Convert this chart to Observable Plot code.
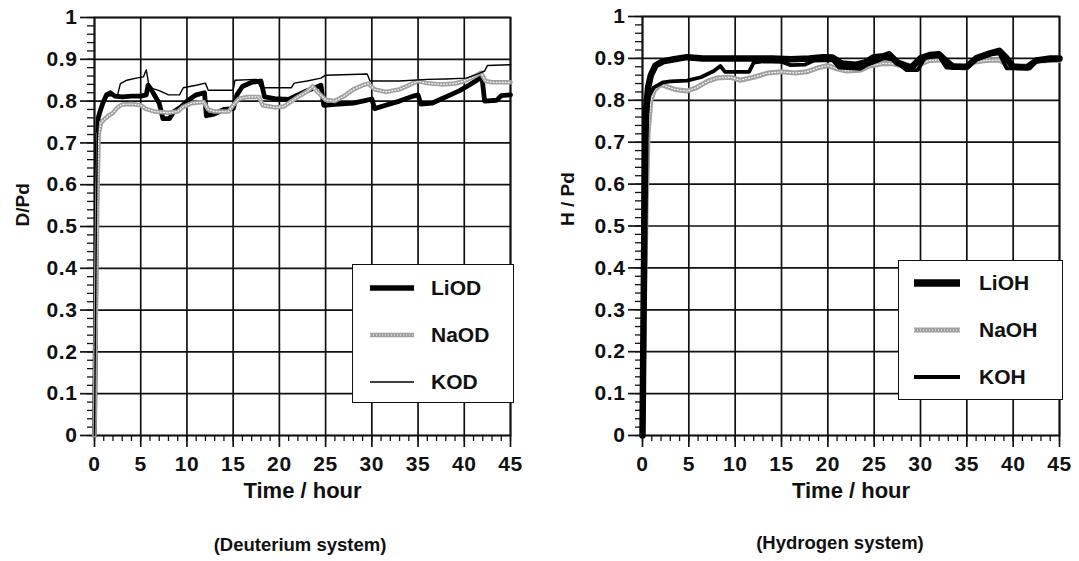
<!DOCTYPE html>
<html><head><meta charset="utf-8">
<script src="https://cdn.jsdelivr.net/npm/d3@7"></script>
<script src="https://cdn.jsdelivr.net/npm/@observablehq/plot@0.6"></script>
<style>
body{margin:0;background:#fff;font-family:"Liberation Sans",Arial,sans-serif;}
#wrap{position:relative;width:1079px;height:561px;overflow:hidden;background:#fff;}
.panel{position:absolute;top:0;}
.panel g[aria-label="y-axis tick label"] text, .panel g[aria-label="x-axis tick label"] text{letter-spacing:0.6px;}
.legend{position:absolute;background:#fff;border:1.8px solid #111;box-sizing:border-box;}
.item{position:absolute;left:0;right:0;height:0;}
.item svg{position:absolute;top:-6px;overflow:visible;}
.item span{position:absolute;top:-12px;font-weight:bold;font-size:21px;line-height:24px;color:#111;}
.cap{position:absolute;font-weight:bold;font-size:18.5px;color:#111;text-align:center;white-space:nowrap;}
</style></head>
<body><div id="wrap"></div>
<script>
// ---------- Deuterium system ----------
const liodT = [0,0.1,0.2,0.3,0.4,0.6,0.9,1.3,1.7,2.2,3,4,5,5.6,5.8,6.2,6.6,7,7.4,8.1,8.6,9.3,10,11,11.9,12.1,12.8,14,15,15.4,16,17,18,18.4,19.5,21,22,23,24.5,24.8,26,28,29,30,30.3,31.5,33,34.5,35,35.3,36.5,37.5,38.5,39.5,40.5,41.5,41.9,42.2,43.5,44,45];
const liodV = [0,0.25,0.5,0.68,0.76,0.775,0.795,0.815,0.82,0.812,0.81,0.812,0.812,0.815,0.838,0.825,0.81,0.795,0.758,0.758,0.775,0.785,0.8,0.815,0.82,0.765,0.768,0.78,0.782,0.815,0.835,0.845,0.848,0.81,0.806,0.804,0.815,0.825,0.838,0.79,0.792,0.795,0.8,0.805,0.782,0.79,0.8,0.812,0.815,0.793,0.795,0.805,0.815,0.825,0.838,0.852,0.86,0.8,0.802,0.813,0.815];
const naodT = [0,0.15,0.3,0.45,0.7,1,1.5,2,2.5,3,4,5,5.5,6.5,8,9,9.5,10.5,11.8,12.3,13,14.5,15,15.6,16.5,17.8,18.2,19.5,20.5,21,22,23,23.6,24.2,25,26,27,28,29,29.6,30.3,31.5,33,34,35,36,37.5,39,40,41,41.8,42.3,43,45];
const naodV = [0,0.3,0.55,0.72,0.748,0.755,0.765,0.772,0.785,0.792,0.793,0.79,0.782,0.775,0.772,0.775,0.785,0.795,0.798,0.78,0.775,0.775,0.79,0.805,0.81,0.81,0.79,0.785,0.787,0.795,0.81,0.823,0.835,0.82,0.803,0.8,0.812,0.828,0.838,0.842,0.828,0.822,0.828,0.838,0.848,0.843,0.84,0.842,0.848,0.858,0.868,0.848,0.845,0.845];
const kodT = [0,0.1,0.2,0.3,0.45,0.7,1,1.5,2.5,2.8,3.5,4.5,5.3,5.6,5.9,6.3,7,8,9.2,9.6,11,12,12.3,15,15.2,17.5,18,21.3,21.6,23,24.5,25,29.5,29.8,33,36,38,40.2,41.5,42.2,42.5,45];
const kodV = [0,0.25,0.5,0.7,0.77,0.785,0.8,0.812,0.815,0.842,0.85,0.855,0.858,0.875,0.835,0.83,0.825,0.815,0.815,0.832,0.838,0.843,0.826,0.826,0.85,0.852,0.832,0.832,0.843,0.848,0.855,0.862,0.865,0.848,0.848,0.852,0.853,0.855,0.865,0.872,0.885,0.887];
// ---------- Hydrogen system ----------
const liohT = [0,0.1,0.2,0.3,0.4,0.6,0.9,1.4,2.2,3.4,4.8,6.5,8,10,12,14,16,18,19.5,20.5,21.5,23,24,25,26,26.6,27.5,29,30,31,32,32.7,33.5,35,36,37.5,38.5,39.3,40,41.5,42.5,44,45];
const liohV = [0,0.25,0.5,0.7,0.78,0.83,0.86,0.883,0.893,0.898,0.903,0.9,0.9,0.9,0.9,0.9,0.898,0.9,0.903,0.902,0.888,0.885,0.89,0.903,0.905,0.91,0.89,0.878,0.9,0.908,0.91,0.895,0.88,0.88,0.9,0.912,0.918,0.9,0.88,0.878,0.895,0.9,0.9];
const naohT = [0,0.2,0.4,0.6,0.9,1.3,2,2.7,3.5,4.8,5.8,7,8,9.5,10.5,12,13.5,15,16.5,17.7,19,20,21,22,23.5,24.5,26,27,28.5,29.8,31,32.5,33.2,34.8,35.5,37,38.5,39.5,41.5,42.3,44,45];
const naohV = [0,0.3,0.55,0.72,0.8,0.825,0.838,0.832,0.826,0.822,0.83,0.845,0.853,0.855,0.848,0.855,0.865,0.868,0.865,0.868,0.878,0.883,0.875,0.87,0.872,0.882,0.888,0.887,0.88,0.885,0.895,0.897,0.885,0.88,0.89,0.895,0.896,0.883,0.882,0.893,0.895,0.895];
const kohT = [0,0.1,0.2,0.3,0.45,0.7,1.2,2.2,3,4.8,6.3,7.7,8.4,8.9,11.5,12,13,15,16,17.5,18.5,20.5,21.2,23.5,24.3,26,27,28.5,29.7,30.5,32,32.8,34.8,35.5,37,38.5,39.3,41.8,42.5,45];
const kohV = [0,0.2,0.45,0.65,0.76,0.81,0.83,0.843,0.845,0.847,0.855,0.87,0.882,0.868,0.868,0.89,0.893,0.892,0.884,0.885,0.895,0.896,0.878,0.875,0.885,0.9,0.898,0.872,0.872,0.902,0.905,0.878,0.876,0.89,0.908,0.912,0.876,0.876,0.893,0.897];
// ---------- axes ----------
const xTicks = [0,5,10,15,20,25,30,35,40,45];
const yTicks = [0,0.1,0.2,0.3,0.4,0.5,0.6,0.7,0.8,0.9,1];
const xMinor = d3.range(0,46,1);
const yMinor = d3.range(0,51,1).map(i => i/50);
const leftNames = ["LiOD","NaOD","KOD"];
const rightNames = ["LiOH","NaOH","KOH"];

const zip = (t, v) => t.map((x, i) => ({t: x, v: v[i]}));
const fmt = d => String(+d.toFixed(1));
const FONT = "Liberation Sans, Arial, sans-serif";

function grayLine(data, w) {
  return [
    Plot.line(data, {x: "t", y: "v", stroke: "#a0a0a0", strokeWidth: w, strokeLinejoin: "round"}),
    Plot.line(data, {x: "t", y: "v", stroke: "#ffffff", strokeWidth: 1.2, strokeDasharray: "1,2", strokeOpacity: 0.9})
  ];
}

function panel(o) {
  return Plot.plot({
    width: o.width, height: 510,
    marginLeft: o.ml, marginRight: o.mr, marginTop: o.mt, marginBottom: 75,
    x: {domain: [0, 45]}, y: {domain: [0, 1]},
    style: {fontFamily: FONT, fontWeight: "bold", fontSize: "20px", color: "#111", background: "transparent"},
    marks: [
      Plot.gridX(xTicks, {stroke: "#111", strokeOpacity: 1, strokeWidth: 1.7}),
      Plot.gridY(yTicks, {stroke: "#111", strokeOpacity: 1, strokeWidth: 1.7}),
      Plot.axisY(yMinor, {tickSize: 7, tickFormat: () => "", label: null, strokeWidth: 1.3}),
      Plot.axisX(xMinor, {tickSize: 6, tickFormat: () => "", label: null, strokeWidth: 1.3}),
      Plot.axisY(yTicks, {tickSize: 14, tickPadding: 3, tickFormat: fmt, label: null, strokeWidth: 1.7, fontSize: 21}),
      Plot.axisX(xTicks, {tickSize: 12, tickPadding: 9, tickFormat: fmt, label: null, strokeWidth: 1.7, fontSize: 21}),
      Plot.text([o.ylabel], {frameAnchor: "left", dx: -o.ylOff, rotate: -90, fontSize: 19, fontWeight: "bold", fill: "#111"}),
      Plot.text(["Time / hour"], {frameAnchor: "bottom", dy: 62, fontSize: 22, fontWeight: "bold", fill: "#111"}),
      Plot.frame({stroke: "#111", strokeWidth: 1.8}),
      ...o.lines
    ]
  });
}

const wrap = document.getElementById("wrap");

const left = panel({
  width: 540, ml: 94, mr: 30, mt: 17, ylabel: "D/Pd", ylOff: 72,
  lines: [
    Plot.line(zip(liodT, liodV), {x: "t", y: "v", stroke: "#000", strokeWidth: 4.8, strokeLinejoin: "round"}),
    ...grayLine(zip(naodT, naodV), 4.5),
    Plot.line(zip(kodT, kodV), {x: "t", y: "v", stroke: "#000", strokeWidth: 1.4})
  ]
});
left.classList.add("panel"); left.style.left = "0px";
wrap.appendChild(left);

const right = panel({
  width: 539, ml: 102, mr: 20, mt: 16, ylabel: "H / Pd", ylOff: 75,
  lines: [
    ...grayLine(zip(naohT, naohV), 5),
    Plot.line(zip(liohT, liohV), {x: "t", y: "v", stroke: "#000", strokeWidth: 6.5, strokeLinejoin: "round"}),
    Plot.line(zip(kohT, kohV), {x: "t", y: "v", stroke: "#000", strokeWidth: 3.8, strokeLinejoin: "round"})
  ]
});
right.classList.add("panel"); right.style.left = "540px";
wrap.appendChild(right);

function legend(names, styles, box, itemsY, sx, tx) {
  const d = document.createElement("div");
  d.className = "legend";
  Object.assign(d.style, {left: box[0] + "px", top: box[1] + "px", width: box[2] + "px", height: box[3] + "px"});
  names.forEach((n, i) => {
    const it = document.createElement("div");
    it.className = "item";
    it.style.top = (itemsY[i] - box[1]) + "px";
    const st = styles[i];
    let svg = `<svg width="${sx[1]-sx[0]}" height="12" style="left:${sx[0]-box[0]}px">`;
    svg += `<line x1="0" x2="${sx[1]-sx[0]}" y1="6" y2="6" stroke="${st.c}" stroke-width="${st.w}"/>`;
    if (st.dot) svg += `<line x1="0" x2="${sx[1]-sx[0]}" y1="6" y2="6" stroke="#fff" stroke-width="1.2" stroke-dasharray="1,2"/>`;
    svg += `</svg>`;
    it.innerHTML = svg + `<span style="left:${tx-box[0]}px">${n}</span>`;
    d.appendChild(it);
  });
  wrap.appendChild(d);
}
legend(leftNames, [{c:"#000",w:5.5},{c:"#a0a0a0",w:4.5,dot:true},{c:"#000",w:1.5}],
  [352,264,162,139], [287,334,381], [369,413], 430);
legend(rightNames, [{c:"#000",w:7.5},{c:"#a0a0a0",w:5,dot:true},{c:"#000",w:4}],
  [898,260,165,140], [282,329,376], [913,959], 978);

function cap(text, cx, cy) {
  const c = document.createElement("div");
  c.className = "cap";
  c.textContent = text;
  c.style.left = (cx - 150) + "px"; c.style.width = "300px";
  c.style.top = (cy - 11) + "px";
  wrap.appendChild(c);
}
cap("(Deuterium system)", 300, 545);
cap("(Hydrogen system)", 840, 543);
</script>
</body></html>
